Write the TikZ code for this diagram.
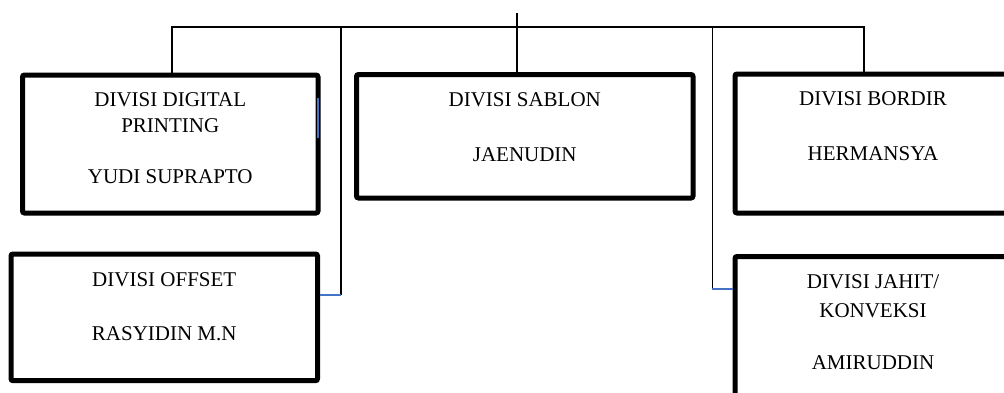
\documentclass[tikz,border=0pt]{standalone}
\usepackage{fontspec}
\setmainfont{Liberation Serif}
\usetikzlibrary{positioning}
\definecolor{linkblue}{HTML}{4472C4}
\tikzset{
  divbox/.style={rectangle, rounded corners=2pt, draw=black, line width=5pt},
  divtext/.style={align=center, inner sep=0pt, font=\fontsize{21}{26}\selectfont},
  link/.style={draw=black, line width=1.5pt},
  bluelink/.style={draw=linkblue, line width=1.6pt}
}
\begin{document}
\begin{tikzpicture}[x=1pt, y=1pt]
\useasboundingbox (0,0) rectangle (1004,392);
\node[divbox, minimum width=295.5pt, minimum height=138pt] (digital) at (170.25,248) {};
\node[divbox, minimum width=336.5pt, minimum height=123.5pt] (sablon) at (524.75,255.75) {};
\node[divbox, minimum width=276pt, minimum height=139pt] (bordir) at (873,248.5) {};
\node[divbox, minimum width=306.5pt, minimum height=126.7pt] (offset) at (164.25,74.65) {};
\node[divbox, minimum width=276pt, minimum height=143.5pt] (jahit) at (873,63.75) {};

\node[divtext, below=19.8pt of digital.north] (digitalT) {DIVISI DIGITAL\\PRINTING\\[25pt]YUDI SUPRAPTO};
\node[divtext, below=20.3pt of sablon.north] (sablonT) {DIVISI SABLON\\[29pt]JAENUDIN};
\node[divtext, below=20.3pt of bordir.north] (bordirT) {DIVISI BORDIR\\[29pt]HERMANSYA};
\node[divtext, below=20.8pt of offset.north] (offsetT) {DIVISI OFFSET\\[28pt]RASYIDIN M.N};
\node[divtext, below=20.3pt of jahit.north] (jahitT) {DIVISI JAHIT/\\[3pt]KONVEKSI\\[26pt]AMIRUDDIN};

\coordinate (top) at (517,379.3);
\coordinate (bar) at (517,365);
\coordinate (dropL) at (172,365);
\coordinate (dropR) at (864,365);
\coordinate (offL) at (341,97);
\coordinate (offR) at (712.3,103.3);

\draw[link] (top) -- (top |- sablon.north);
\draw[link] (dropL |- digital.north) -- (dropL) -- (dropR) -- (dropR |- bordir.north);
\draw[link] (offL |- bar) -- (offL);
\draw[link] (offR |- bar) -- (offR);
\draw[bluelink] (offL) -- (offL -| offset.east);
\draw[bluelink] (offR) -- (offR -| jahit.west);
\draw[bluelink, line width=2pt] ([xshift=-2.5pt, yshift=6pt]digital.east) -- ++(0,40);
\end{tikzpicture}
\end{document}
